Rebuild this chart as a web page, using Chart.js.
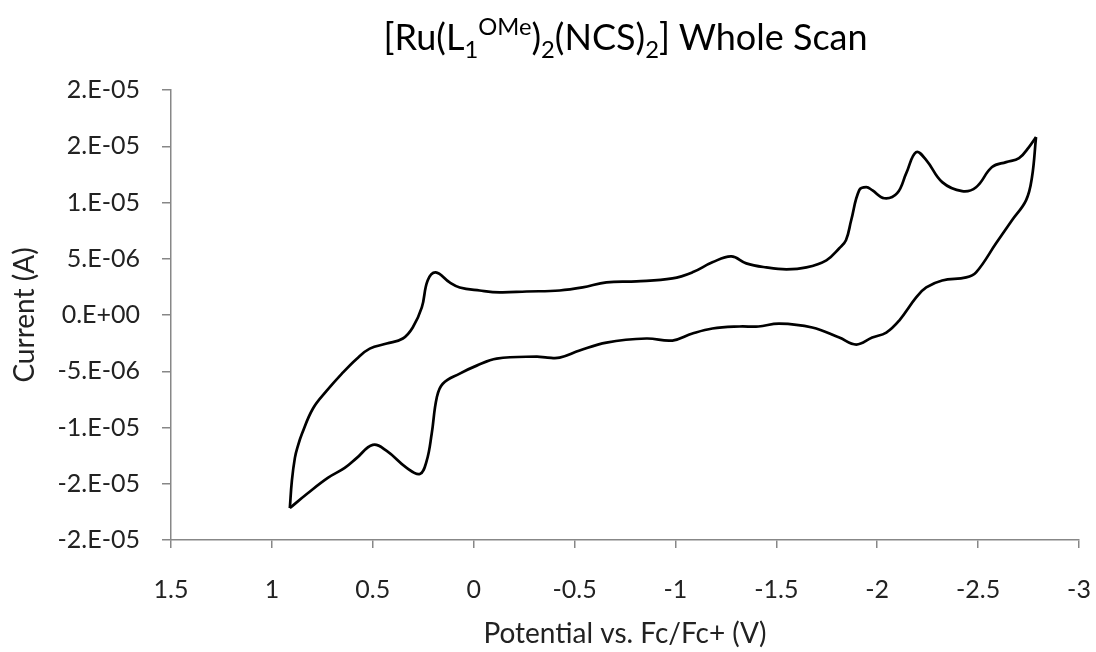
<!DOCTYPE html>
<html>
<head>
<meta charset="utf-8">
<script src="https://cdn.jsdelivr.net/npm/chart.js@4.4.1/dist/chart.umd.min.js"></script>
<style>
  body { margin: 0; background: #fff; }
  #wrap { position: relative; width: 1096px; height: 652px; }
  #chartTitle {
    position: absolute; left: 171px; width: 909px; top: 18px;
    text-align: center; font: 36px Lato, sans-serif; color: #000; line-height: 1;
  }
  #chartTitle sub, #chartTitle sup { font-size: 0.66em; line-height: 0; position: relative; vertical-align: baseline; }
  #chartTitle sup { top: -0.62em; }
  #chartTitle sub { top: 0.32em; }
</style>
</head>
<body>
<div id="wrap">
  <canvas id="cvChart" width="1096" height="652"></canvas>
  <div id="chartTitle">[Ru(L<sub>1</sub><sup>OMe</sup>)<sub>2</sub>(NCS)<sub>2</sub>] Whole Scan</div>
</div>
<script>
// sweep from the positive vertex out to the negative vertex (V, µA)
const potentialFwd = [0.911, 0.901, 0.886, 0.871, 0.851, 0.797, 0.728, 0.653, 0.579, 0.515, 0.431, 0.351, 0.302,
    0.257, 0.228, 0.188, 0.119, 0.069, -0.030, -0.129, -0.262, -0.426, -0.540, -0.658, -0.807, -0.985, -1.084,
    -1.183, -1.277, -1.351, -1.450, -1.550, -1.649, -1.748, -1.812, -1.845, -1.871, -1.911, -1.946, -1.975,
    -2.035, -2.099, -2.144, -2.193, -2.243, -2.322, -2.421, -2.490, -2.569, -2.639, -2.703, -2.752, -2.787];
const currentFwd = [-17.16, -14.75, -12.70, -11.63, -10.56, -8.33, -6.73, -5.21, -3.88, -2.99, -2.54, -2.09, -1.11,
    0.67, 3.07, 3.79, 2.90, 2.45, 2.18, 2.01, 2.09, 2.18, 2.45, 2.90, 2.99, 3.25, 3.79,
    4.68, 5.21, 4.59, 4.23, 4.06, 4.23, 4.86, 5.93, 6.64, 8.42, 11.10, 11.36, 11.10,
    10.38, 10.83, 12.61, 14.48, 13.77, 11.81, 11.01, 11.36, 13.15, 13.59, 13.95, 14.93, 15.82];

// return sweep back to the positive vertex (V, µA)
const potentialRev = [-2.787, -2.767, -2.738, -2.668, -2.589, -2.490, -2.441, -2.322, -2.243, -2.193, -2.109,
    -2.045, -1.975, -1.896, -1.812, -1.678, -1.515, -1.411, -1.317, -1.183, -1.084, -0.985, -0.856, -0.658,
    -0.525, -0.426, -0.366, -0.312, -0.114, -0.015, 0.069, 0.153, 0.183, 0.208, 0.233, 0.267, 0.332, 0.431,
    0.500, 0.579, 0.639, 0.723, 0.827, 0.911];
const currentRev = [15.82, 12.25, 10.21, 8.42, 6.37, 3.79, 3.34, 3.07, 2.45, 1.56, -0.49,
    -1.56, -2.01, -2.63, -2.01, -1.11, -0.76, -1.02, -1.02, -1.20, -1.65, -2.27, -2.09, -2.45,
    -3.16, -3.79, -3.79, -3.70, -3.88, -4.50, -5.21, -6.11, -7.35, -10.56, -12.97, -14.13, -13.59, -12.08,
    -11.54, -12.70, -13.59, -14.48, -15.91, -17.16];

const xTickValues = [1.5, 1, 0.5, 0, -0.5, -1, -1.5, -2, -2.5, -3];
const xTickLabels = ['1.5', '1', '0.5', '0', '-0.5', '-1', '-1.5', '-2', '-2.5', '-3'];
const yTickValues = [-2e-5, -1.5e-5, -1e-5, -5e-6, 0, 5e-6, 1e-5, 1.5e-5, 2e-5];
const yTickLabels = ['-2.E-05', '-2.E-05', '-1.E-05', '-5.E-06', '0.E+00', '5.E-06', '1.E-05', '2.E-05', '2.E-05'];

const toPoints = (xs, ys) => xs.map((x, i) => ({ x: x, y: ys[i] * 1e-6 }));

const axisColor = '#878787';
const tickFont = { family: 'Lato, sans-serif', size: 25 };
const titleFont = { family: 'Lato, sans-serif', size: 28 };

const sweepStyle = {
    borderColor: '#000',
    borderWidth: 2.7,
    pointRadius: 0,
    fill: false,
    tension: 0.4
};

const ctx = document.getElementById('cvChart').getContext('2d');
new Chart(ctx, {
    type: 'line',
    data: {
        datasets: [
            { ...sweepStyle, label: 'forward', data: toPoints(potentialFwd, currentFwd) },
            { ...sweepStyle, label: 'reverse', data: toPoints(potentialRev, currentRev) }
        ]
    },
    options: {
        responsive: false,
        animation: false,
        layout: { padding: { top: 90, right: 0, left: 8, bottom: 0 } },
        plugins: {
            legend: { display: false },
            tooltip: { enabled: false }
        },
        scales: {
            x: {
                type: 'linear',
                min: -3,
                max: 1.5,
                reverse: true,
                afterBuildTicks: scale => { scale.ticks = xTickValues.map(v => ({ value: v })); },
                afterFit: scale => {
                    scale.height = 112;
                    scale.paddingLeft = 0;
                    scale.paddingRight = 17;
                },
                ticks: {
                    color: '#222',
                    font: tickFont,
                    padding: 27,
                    maxRotation: 0,
                    callback: (value, index) => xTickLabels[index]
                },
                grid: { drawOnChartArea: false, color: axisColor, tickLength: 8, lineWidth: 1.5 },
                border: { color: axisColor, width: 1.5 },
                title: { display: true, text: 'Potential vs. Fc/Fc+ (V)', color: '#222', font: titleFont, padding: { top: 12, bottom: 1 } }
            },
            y: {
                min: -2e-5,
                max: 2e-5,
                afterBuildTicks: scale => { scale.ticks = yTickValues.map(v => ({ value: v })); },
                afterFit: scale => { scale.width = 163; },
                ticks: {
                    color: '#222',
                    font: tickFont,
                    padding: 22,
                    callback: (value, index) => yTickLabels[index]
                },
                grid: { drawOnChartArea: false, color: axisColor, tickLength: 9, lineWidth: 1.5 },
                border: { color: axisColor, width: 1.5 },
                title: { display: true, text: 'Current (A)', color: '#222', font: titleFont, padding: { top: 0, bottom: 15 } }
            }
        }
    }
});
</script>
</body>
</html>
